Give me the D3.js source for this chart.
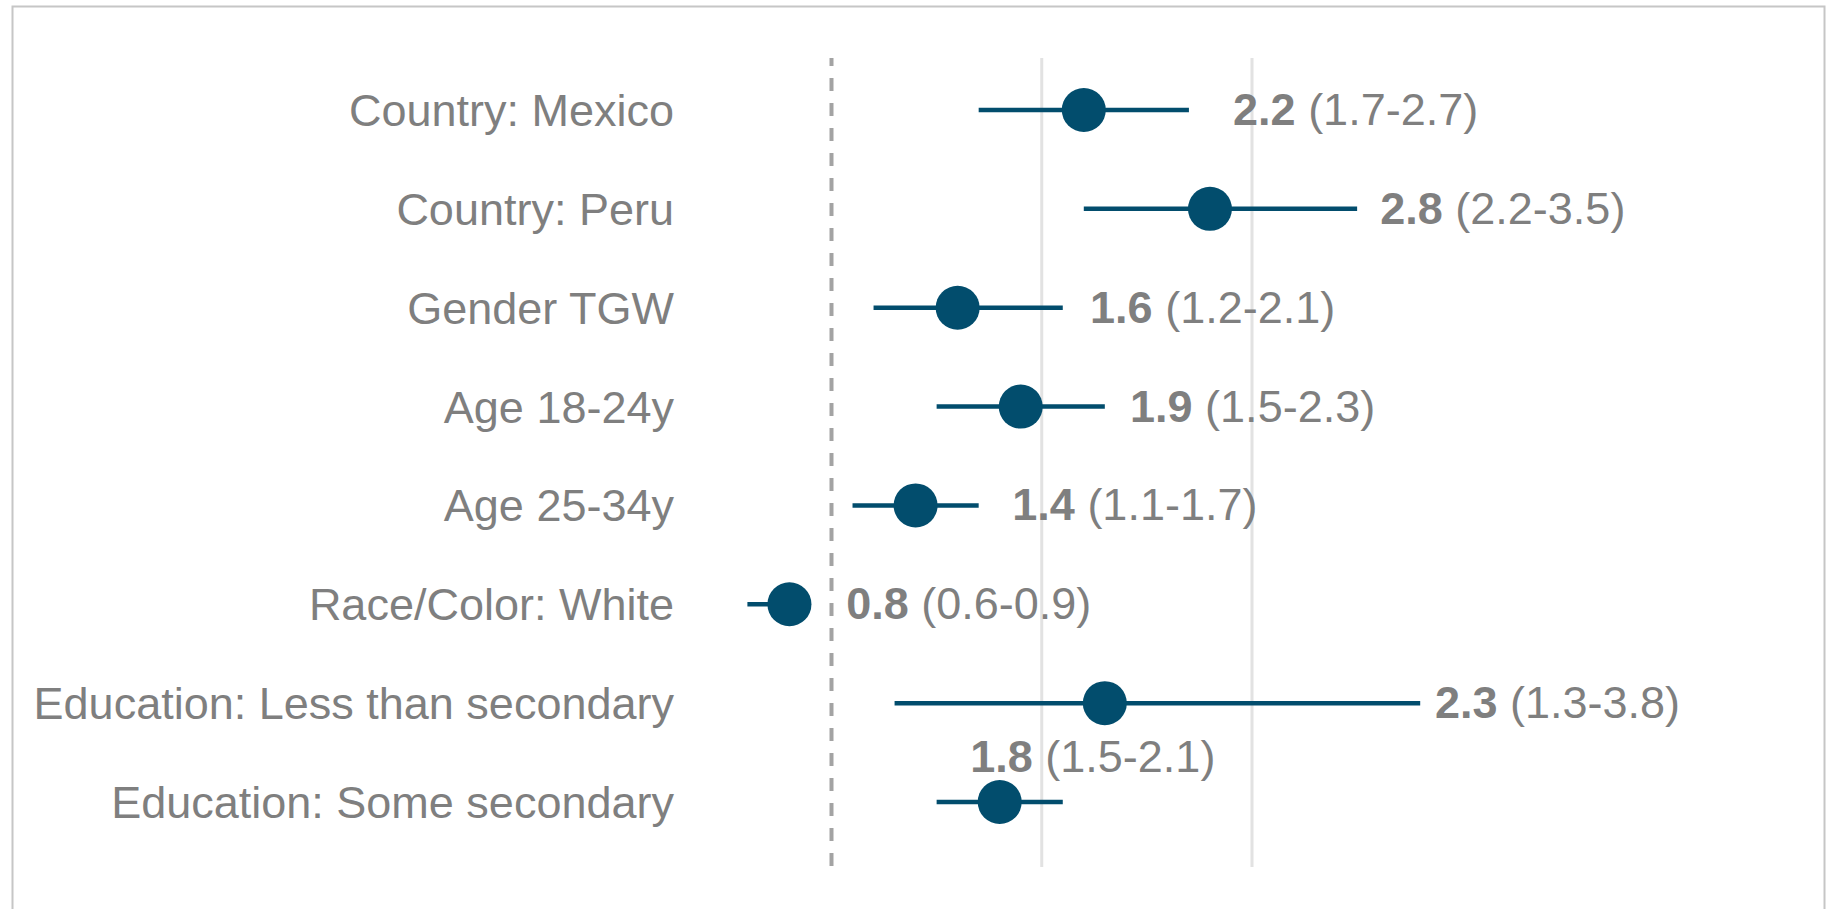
<!DOCTYPE html>
<html>
<head>
<meta charset="utf-8">
<script src="https://cdn.jsdelivr.net/npm/d3@7/dist/d3.min.js"></script>
<style>
  html, body { margin: 0; padding: 0; background: #fff; }
  svg { display: block; }
  text { font-family: "Liberation Sans", Arial, sans-serif; }
</style>
</head>
<body>
<svg id="chart" width="1831" height="909"></svg>
<script>
// ---- data ----
const categories = [
  "Country: Mexico",
  "Country: Peru",
  "Gender TGW",
  "Age 18-24y",
  "Age 25-34y",
  "Race/Color: White",
  "Education: Less than secondary",
  "Education: Some secondary"
];
const oddsRatio = [2.2, 2.8, 1.6, 1.9, 1.4, 0.8, 2.3, 1.8];
const ciLow     = [1.7, 2.2, 1.2, 1.5, 1.1, 0.6, 1.3, 1.5];
const ciHigh    = [2.7, 3.5, 2.1, 2.3, 1.7, 0.9, 3.8, 2.1];
// value-space anchor where each annotation starts
const labelAt   = [2.91, 3.61, 2.23, 2.42, 1.86, 1.07, 3.87, 1.66];
const labelAbove = [false, false, false, false, false, false, false, true];
const gridValues = [2, 3];
const refValue = 1;

// ---- layout ----
const svg = d3.select("#chart");
const W = 1831, H = 909;
const dotColor = "#024d6d";
const textColor = "#7f7f7f";

const x = d3.scaleLinear().domain([1, 3]).range([831.5, 1252]);
const y = d3.scalePoint().domain(categories).range([110, 802]);
const plotTop = 58, plotBottom = 867;

// frame
svg.append("rect")
  .attr("x", 12.5).attr("y", 6.5)
  .attr("width", 1812).attr("height", 960)
  .attr("fill", "none").attr("stroke", "#c6c6c6").attr("stroke-width", 2);

// gridlines
svg.append("g").selectAll("line").data(gridValues).join("line")
  .attr("x1", d => x(d)).attr("x2", d => x(d))
  .attr("y1", plotTop).attr("y2", plotBottom)
  .attr("stroke", "#e2e2e2").attr("stroke-width", 3);

// reference line
svg.append("line")
  .attr("x1", x(refValue)).attr("x2", x(refValue))
  .attr("y1", plotTop).attr("y2", plotBottom)
  .attr("stroke", "#a3a3a3").attr("stroke-width", 4)
  .attr("stroke-dasharray", "13,12").attr("stroke-dashoffset", 5);

const rows = categories.map((c, i) => ({
  cat: c, or: oddsRatio[i], lo: ciLow[i], hi: ciHigh[i],
  lab: labelAt[i], above: labelAbove[i]
}));

// category labels
svg.append("g").selectAll("text").data(rows).join("text")
  .attr("x", 674).attr("y", d => y(d.cat) + 16)
  .attr("text-anchor", "end")
  .attr("font-size", 45).attr("fill", textColor)
  .text(d => d.cat);

// CI lines
svg.append("g").selectAll("line").data(rows).join("line")
  .attr("x1", d => x(d.lo)).attr("x2", d => x(d.hi))
  .attr("y1", d => y(d.cat)).attr("y2", d => y(d.cat))
  .attr("stroke", dotColor).attr("stroke-width", 4.5);

// points
svg.append("g").selectAll("circle").data(rows).join("circle")
  .attr("cx", d => x(d.or)).attr("cy", d => y(d.cat))
  .attr("r", 22).attr("fill", dotColor);

// value annotations
const fmt = d3.format(".1f");
const ann = svg.append("g").selectAll("text").data(rows).join("text")
  .attr("x", d => x(d.lab))
  .attr("y", d => y(d.cat) + (d.above ? -30 : 15))
  .attr("font-size", 45).attr("fill", textColor);
ann.append("tspan").attr("font-weight", "bold").text(d => fmt(d.or));
ann.append("tspan").text(d => " (" + fmt(d.lo) + "-" + fmt(d.hi) + ")");
</script>
</body>
</html>
